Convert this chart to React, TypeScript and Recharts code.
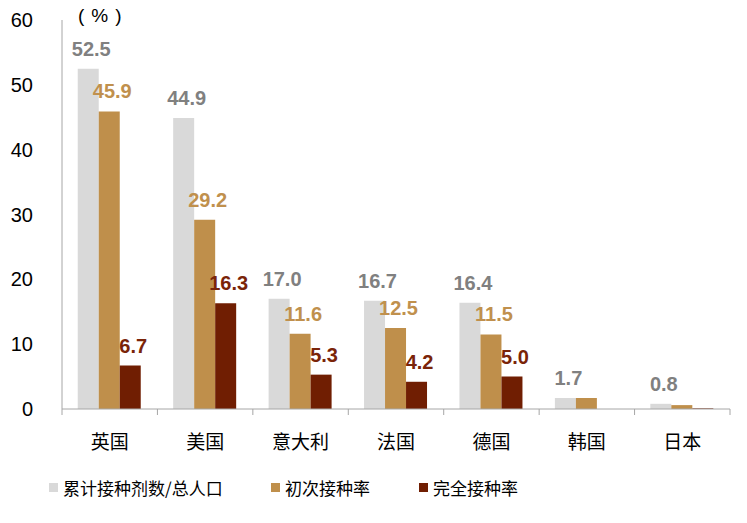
import React from 'react';
import { BarChart, Bar, XAxis, YAxis, LabelList } from 'recharts';

const countries = ['英国', '美国', '意大利', '法国', '德国', '韩国', '日本'];
const totalDoses = [52.5, 44.9, 17.0, 16.7, 16.4, 1.7, 0.8];
const firstDose = [45.9, 29.2, 11.6, 12.5, 11.5, 1.7, 0.6];
const fullyVaccinated = [6.7, 16.3, 5.3, 4.2, 5.0, 0, 0.1];
// only these countries carry value labels on the second and third series
const labeledCountries = ['英国', '美国', '意大利', '法国', '德国'];
const yTicks = [0, 10, 20, 30, 40, 50, 60];

const seriesNames = ['累计接种剂数/总人口', '初次接种率', '完全接种率'];
const barColors = ['#d9d9d9', '#bf8f4b', '#701e02'];
const labelColors = ['#808080', '#c0904d', '#7a2408'];

const data = countries.map((name, i) => ({
  name,
  total: totalDoses[i],
  first: firstDose[i],
  full: fullyVaccinated[i],
}));

const NUM_FONT = '"Liberation Sans", Arial, sans-serif';
const CJK_FONT = '"Noto Sans CJK SC", "Noto Sans", sans-serif';
const BAND = (730 - 62) / countries.length;

function YTick(props: any) {
  const { x, y, payload } = props;
  return (
    <text x={x - 29} y={y} textAnchor="end" dominantBaseline="central" fontSize={20} fontFamily={NUM_FONT} fill="#000">
      {payload.value}
    </text>
  );
}

function XTick(props: any) {
  const { x, y, payload, index } = props;
  const last = index === countries.length - 1;
  return (
    <g>
      <line x1={x - BAND / 2} x2={x - BAND / 2} y1={y} y2={y + 6} stroke="#a6a6a6" />
      {last && <line x1={x + BAND / 2} x2={x + BAND / 2} y1={y} y2={y + 6} stroke="#a6a6a6" />}
      <text x={x} y={y + 31} textAnchor="middle" dominantBaseline="central" fontSize={19} fontFamily={CJK_FONT} fill="#000">
        {payload.value}
      </text>
    </g>
  );
}

function makeLabel(color: string, allCountries: boolean) {
  return function ValueLabel(props: any) {
    const { x, y, width, value, index } = props;
    if (!allCountries && !labeledCountries.includes(countries[index])) return null;
    return (
      <text x={x + width / 2 + 3} y={y - 13} textAnchor="middle" fontSize={20} fontWeight="bold" fontFamily={NUM_FONT} fill={color}>
        {Number(value).toFixed(1)}
      </text>
    );
  };
}

const legendPos = [
  { left: 49, text: 63 },
  { left: 271, text: 285 },
  { left: 419, text: 433 },
];

export default function App() {
  return (
    <div style={{ position: 'absolute', left: 0, top: 0, width: 747, height: 523, background: '#fff' }}>
      <BarChart
        width={747}
        height={523}
        data={data}
        margin={{ top: 20, right: 17, left: 0, bottom: 0 }}
        barCategoryGap="16.5%"
        barGap={0}
      >
        <YAxis
          domain={[0, 60]}
          ticks={yTicks}
          width={62}
          axisLine={{ stroke: '#a6a6a6' }}
          tickLine={false}
          tickSize={0}
          tickMargin={0}
          tick={<YTick />}
          interval={0}
        />
        <XAxis
          dataKey="name"
          axisLine={{ stroke: '#a6a6a6' }}
          tickLine={false}
          tickSize={0}
          tickMargin={0}
          tick={<XTick />}
          interval={0}
          height={114}
        />
        <Bar dataKey="total" fill={barColors[0]} isAnimationActive={false}>
          <LabelList dataKey="total" content={makeLabel(labelColors[0], true)} />
        </Bar>
        <Bar dataKey="first" fill={barColors[1]} isAnimationActive={false}>
          <LabelList dataKey="first" content={makeLabel(labelColors[1], false)} />
        </Bar>
        <Bar dataKey="full" fill={barColors[2]} isAnimationActive={false}>
          <LabelList dataKey="full" content={makeLabel(labelColors[2], false)} />
        </Bar>
      </BarChart>
      <div
        style={{
          position: 'absolute',
          left: 78,
          top: 4,
          fontSize: 19,
          lineHeight: '24px',
          letterSpacing: 7,
          fontFamily: NUM_FONT,
          color: '#000',
          whiteSpace: 'nowrap',
        }}
      >
        (%)
      </div>
      {seriesNames.map((name, i) => (
        <div key={name}>
          <div
            style={{
              position: 'absolute',
              left: legendPos[i].left,
              top: 483,
              width: 9,
              height: 9,
              background: barColors[i],
            }}
          />
          <div
            style={{
              position: 'absolute',
              left: legendPos[i].text,
              top: 476,
              fontSize: 17,
              lineHeight: '24px',
              fontFamily: CJK_FONT,
              color: '#000',
              whiteSpace: 'nowrap',
            }}
          >
            {name}
          </div>
        </div>
      ))}
    </div>
  );
}
